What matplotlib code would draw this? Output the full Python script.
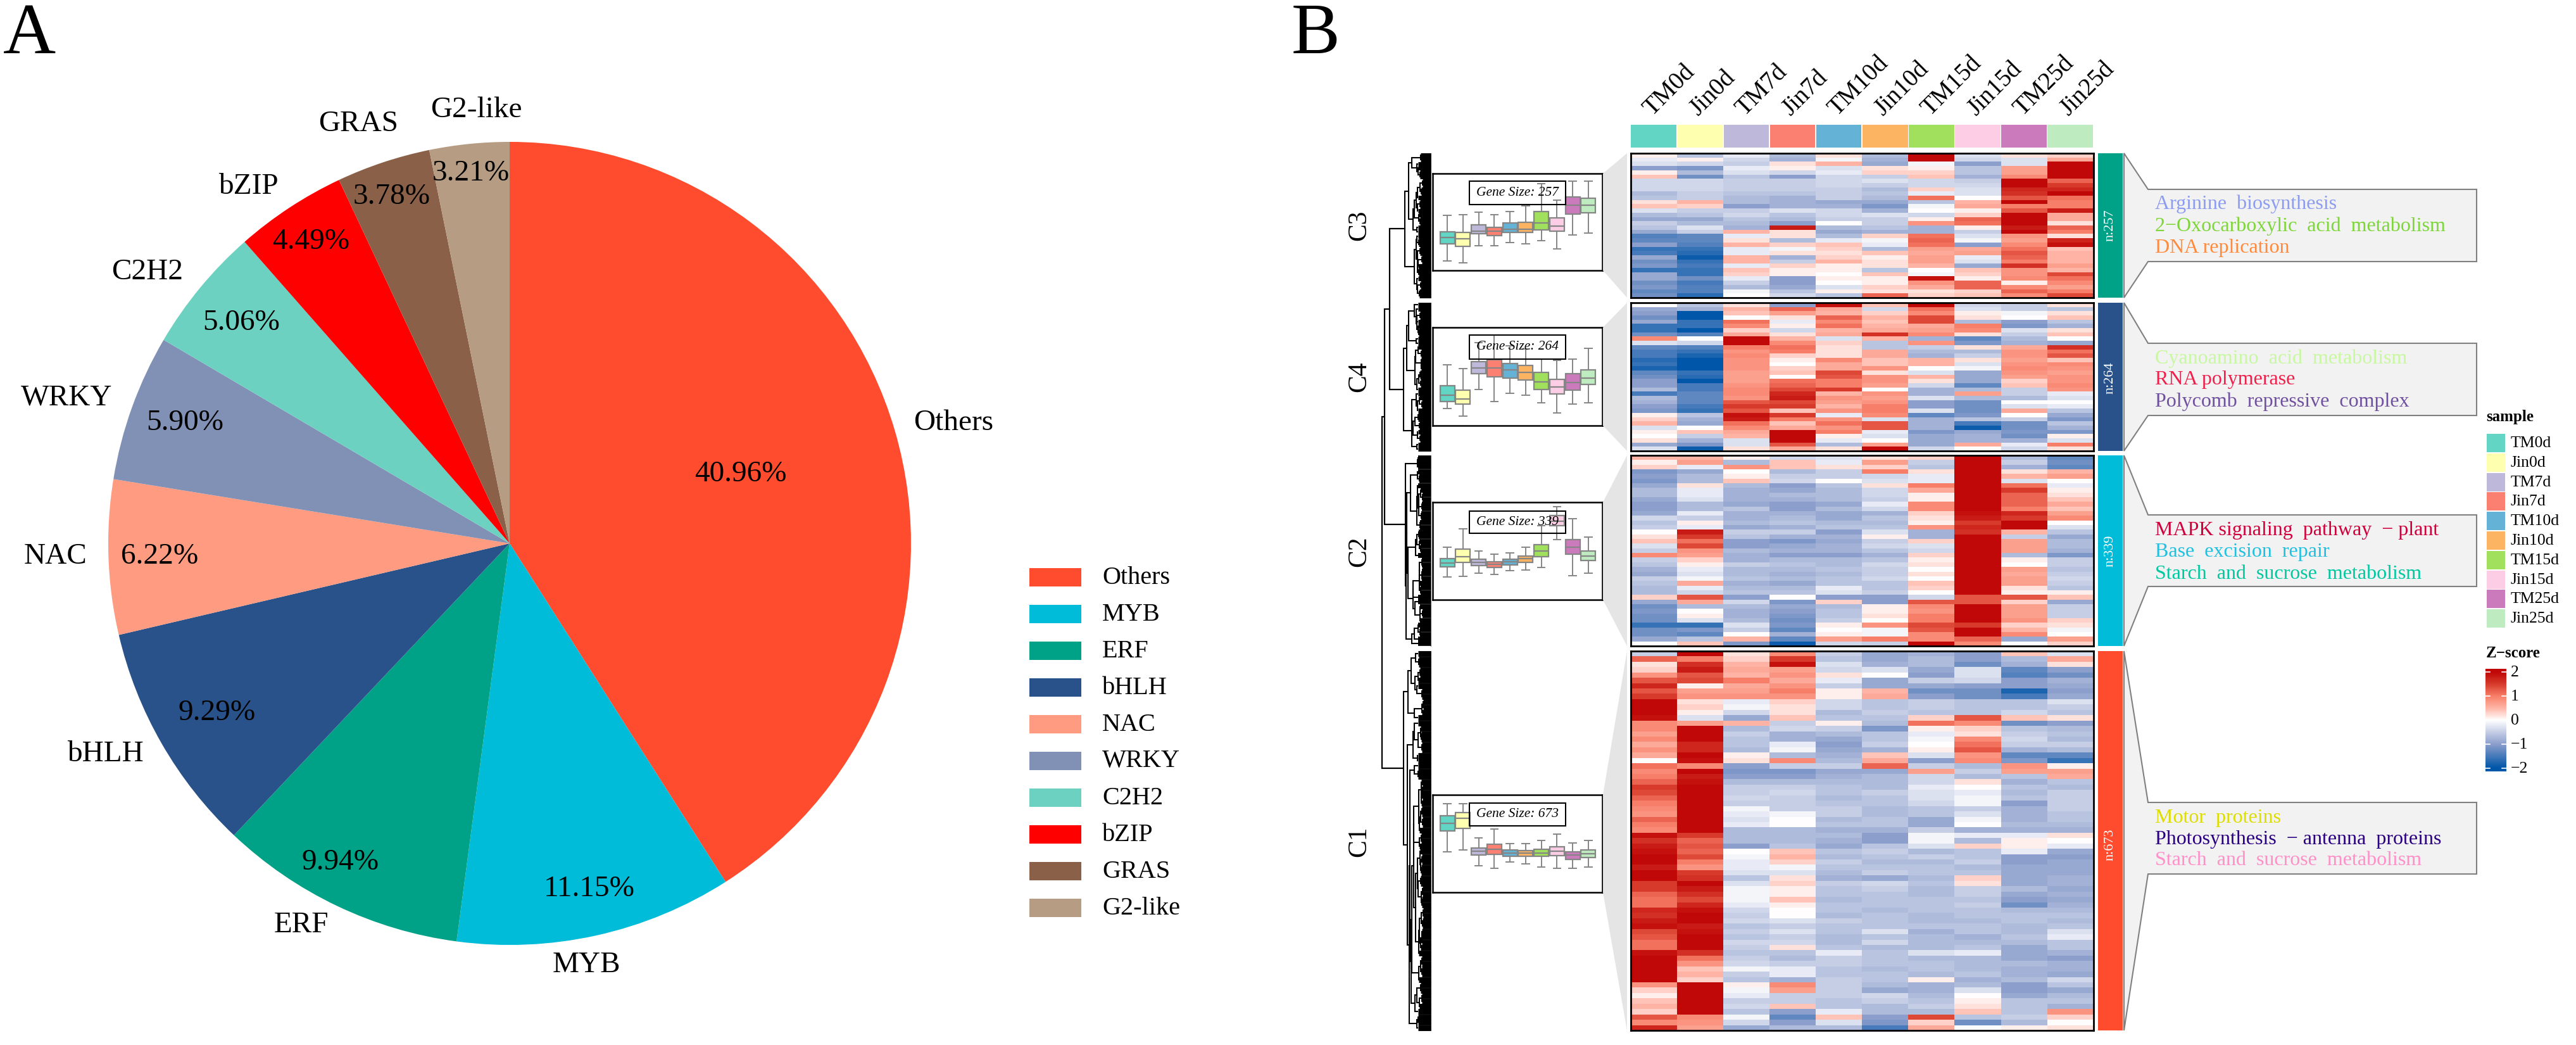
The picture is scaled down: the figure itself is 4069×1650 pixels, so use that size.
import numpy as np
import matplotlib
matplotlib.use("Agg")
import matplotlib.pyplot as plt
from matplotlib.colors import LinearSegmentedColormap
from matplotlib.patches import Polygon, Rectangle

plt.rcParams['font.family'] = ['Liberation Serif', 'DejaVu Serif']

# ---------------- data ----------------
families = ['Others','MYB','ERF','bHLH','NAC','WRKY','C2H2','bZIP','GRAS','G2-like']
family_pct = [40.96,11.15,9.94,9.29,6.22,5.90,5.06,4.49,3.78,3.21]
family_colors = ['#FF4C2F','#00BCD8','#00A287','#2A528A','#FF9B80','#8091B5','#6CD1C0','#FF0000','#8A6148','#B59C82']

samples = ['TM0d','Jin0d','TM7d','Jin7d','TM10d','Jin10d','TM15d','Jin15d','TM25d','Jin25d']
sample_colors = ['#62D5C5','#FFFFB0','#BEB9DA','#FC8072','#64B2D5','#FDB462','#A0E05C','#FCCDE5','#CB7BBC','#BEEBBF']

c3_rows = [
[.1,-.6,-.2,-.7,.2,-.7,2,-.3,.2,.3],[-.2,.1,-.4,-.8,-.1,-.8,2,-.4,-.3,.6],[-.3,-.4,-.5,.2,.5,-.9,-.1,-1,-.3,2],
[-1,-1.1,-.2,.1,-.3,.2,.1,-.6,.7,2],[.1,-.7,-.3,-.4,-.2,.3,.3,-.6,.7,2],[.4,-1.2,-.6,-1,-.4,-.5,.4,-.8,.9,2],
[-.4,-.4,-.5,-.5,-.4,-.3,-.4,-.5,2,1.2],[-.4,-.4,-.5,-.5,-.4,-.5,-.4,-.4,2,1.5],[-.4,-.4,-.5,-.5,-.5,-.7,.3,-.3,1.7,1.7],
[-.7,-.5,-.6,-.6,-.5,-.6,-.2,-.3,1.6,2],[-.6,-.5,-.7,-.8,-.5,-.7,1.1,0,1.3,1.1],[.2,.5,-.7,-.8,-.9,-.9,-.6,.5,2,1],
[.4,.3,-1,-.8,-.8,-1.1,-.1,.6,1,1],[-.3,-.5,-.5,-.3,-.4,-.8,0,.1,1.3,1.8],[-.7,-.6,-.4,-.6,-.4,-.3,-.4,.3,2,.6],
[-.9,-.9,-.6,-.7,-.5,-.5,.1,1.2,2,.6],[-.5,-.7,-.7,-1,0,-.5,.8,1.1,2,.2],[-.6,-.3,-.8,1.8,-.7,-.6,-.8,.1,1.8,1.2],
[-.9,-.5,.5,.2,-.9,-.8,-.8,-.5,2,1],[-1.4,-1.3,-.2,.2,-.7,.3,1.1,-.3,.8,.2],[-1.3,-1.3,.2,-.7,-.2,-.1,1.2,-.1,.7,1.7],
[-1,-1.4,.5,.3,.4,-.2,1.1,-1,.9,1.9],[-1.6,-1.6,-.2,-.1,.3,-.7,.7,.6,1.1,.4],[-1.5,-1.7,-.2,.2,.2,.4,.6,.7,1.3,.5],
[-.9,-1.9,.5,-.8,.3,.1,.7,-.2,1.2,.5],[-1.2,-1.6,.5,-.5,.5,.2,.7,-.3,1,.5],[-1.1,-1.5,-.2,.3,.1,.2,.5,-.9,1.6,.7],
[-1.6,-1.6,.4,.1,.1,-.6,0,.4,.8,.5],[-.9,-1.6,.3,.1,0,.4,-.1,.3,.8,1.4],[-.9,-1.2,-.2,-1,.1,.1,1.9,.1,.9,1.1],
[-1.2,-1.5,-.5,-1,0,.1,.8,1.2,.1,.9],[-1.1,-1.4,-.7,-.9,-.3,.3,.6,1.2,.9,.7],[-1.3,-1.4,-.1,-.6,.1,.2,.2,.3,1.2,1],
[-1.2,-1.7,0,-.4,-.6,1.2,.3,.4,.9,1.4]]

c4_rows = [
[0,-.6,.2,-1,1.9,.4,2,-.4,-.5,.2],[-.9,-.8,.5,1.2,.6,-.4,1.1,-.3,-.5,-.6],[-1,-2,.4,.7,.5,.3,.9,.1,-.1,.2],
[-1.2,-2,0,.2,1.2,.5,1.4,.2,0,.4],[-.9,-1.6,1.1,-.2,.9,.4,1.4,-.7,-1,-.6],[-1.6,-1.6,.9,.1,1.1,.5,.6,1,-1.1,-.8],
[-1.6,-2,.3,-.4,.5,.6,.7,.9,-.3,.2],[-1.2,-1.4,.6,.2,.6,1.6,.9,.2,-.5,.4],[.9,0,2,.5,-.3,.5,-.8,-1.3,-.7,0],
[-.3,-.4,2,.9,.3,-.6,.8,-1.1,-.8,-.9],[-1.3,-1.4,1,1.1,.2,-.6,-.5,.2,.6,1.6],[-1.5,-1.6,.8,1,.2,.6,-.7,-.7,.8,1.1],
[-1.5,-1.8,.9,.3,.2,.6,-.8,-.5,.8,1.3],[-1.7,-2,.8,.1,.9,.4,.5,.2,.7,.4],[-1.6,-2,.8,0,.6,.4,.5,-.3,.8,.9],
[-1.8,-2,.8,.3,.6,.8,0,-.1,.9,.8],[-1.3,-1.6,.7,.4,1.4,.2,-.3,-.9,.8,.7],[-1.2,-1.7,.7,0,1.3,.8,.5,-.9,.7,.8],
[-1,-2,.7,1.1,1,.8,.2,-.9,.3,.8],[-1,-1.5,.8,1.2,1,.7,-.4,-1.3,.4,.9],[-.7,-1.5,.9,1.4,1.5,0,-.8,-.7,-.5,.8],
[-1.5,-1.3,.9,1.7,.5,.8,-.8,.7,-.5,-.2],[-.7,-1.3,.8,1.8,.8,.7,-.3,-.7,-.7,-.3],[-.8,-1.3,1.3,1.4,.7,.8,-1,-1.2,0,0],
[-1,-1.5,1.5,1.5,.5,1,-1,-1.2,-.3,-.2],[-1.1,-1.6,1.3,.4,.8,1,-.3,-1.2,.6,-.6],[.1,-.6,1.9,1.5,-.2,.9,-1.3,-1.1,0,-.9],
[.3,-.8,1.8,1,.8,-.3,-.8,-.6,-.5,-1.1],[.5,-.9,1.1,.4,1.1,1.3,-.8,-1.5,-1.2,-.6],[-.3,0,.9,.6,.8,1.3,-.8,-1.9,-1.2,-.8],
[.1,.4,.6,2,1,-.2,-1.1,-.9,-1.1,-1.1],[0,-.5,.5,2,.1,-.3,-.9,-.8,-1.2,.1],[.2,-.8,-.3,2,-.2,0,-.9,-.8,-.8,-.3],
[-.9,-1.1,-.3,1.3,-.7,.7,-.9,.6,-.2,1],[-.3,-1.9,.2,.6,.2,2,-.4,0,-.4,.2]]

c2_rows = [
[.5,.5,.1,-.4,-.3,.2,.3,2,-.7,-1.3],[.1,.7,-.7,.4,-.2,.7,-.5,2,-.5,-1.2],[.3,-.2,.8,.4,.2,.3,-.6,2,-.8,-1.3],
[-1.1,-.9,0,-.7,-.5,1,.2,2,.2,.5],[-1,-.7,.1,-.5,-.5,-.4,-.2,2,.5,.7],[-1.1,-.7,.4,-.4,0,-.3,-.2,2,-.3,0],
[-.9,.2,-.7,-1,-.6,.2,1,2,1.1,-.2],[-.7,-.2,-.8,-.9,-.7,-.4,.6,2,1.5,.1],[-.7,-.2,-.8,-.7,-.7,-.4,.1,2,1.2,.2],
[-.9,-.3,-.8,-.8,-.7,-.5,.1,2,1.2,.4],[-1,-.7,-.9,-1,-.9,-.2,.9,2,1.2,.6],[-1,-.7,-.6,-1,-.7,-.4,.9,2,1,.4],
[-.9,-.2,-.8,-.8,-.9,-.8,.3,1.9,1.7,.7],[-.4,-.5,-.8,-.7,-.9,-.6,.2,1.8,1.5,.9],[-.6,.1,-.7,-.6,-.7,-.7,.1,1.5,2,0],
[-.5,-.2,-.9,-.8,-.6,-.6,.8,1.7,2,-.3],[0,1.8,-.5,-.5,-1,-.3,-.8,1.6,.5,-.6],[.2,1.5,-.6,-.8,-.8,.1,-.8,2,-.5,-.9],
[.4,1.1,-1,-1.1,-.9,-.5,.3,2,.7,-.7],[-.3,1.4,-1,-.9,-.8,-.4,-.3,2,.7,-.7],[-.5,.8,-.7,-.8,-.8,-.6,-.4,2,.7,-.8],
[.9,.7,-.8,-1,-1,-.8,.3,2,-.7,-1.1],[-.5,.3,-.8,-.7,-.7,-.6,.1,2,.1,-.5],[-.6,.1,-.5,-.6,-.7,-.4,.2,2,0,-.5],
[-.8,-.2,-.7,-.7,-.6,-.5,0,2,.7,-.6],[-.9,-.3,-.7,-.8,-.7,-.5,.2,2,.6,-.5],[-.5,-.1,-.6,-.7,-.6,-.4,0,2,.7,-.4],
[-.6,.6,-.8,-.9,-.6,-.6,.4,2,.7,-.5],[-.7,-.2,-.7,-.7,-.2,-.6,.3,2,.2,-.6],[-.7,-.4,-.6,-.6,-.3,-.5,0,2,.1,.1],
[.3,1.3,-1,0,-1,-1,-.4,1.3,1.3,.4],[-.9,.6,-.4,-1.1,.3,-1,1.3,1.3,.3,-.9],[-1.2,-.7,-.7,-.9,-.7,.1,.9,2,.7,-.5],
[-1.1,0,-.8,-1,-.6,.1,.8,2,.7,-.5],[-1.2,.1,-.8,-1.1,-.6,.2,1,2,.7,-.5],[-1.2,-.3,-.7,-1.2,-.5,0,1,2,.8,.3],
[-1.6,-1.6,-.3,-1.1,.1,.8,1.4,1.5,.3,.2],[-1.2,-1.1,-.5,-1.3,0,-.1,1.3,2,.5,-.1],[-1.2,-1.3,0,-.8,.1,-.1,.9,2,.9,0],
[-.9,-.6,.5,-1.3,.7,1,.9,1.2,-.9,.7],[0,.4,-1.1,-1.9,-.4,-.5,2,.9,0,.3]]

c1_rows = [
[-.5,2,.2,.9,-.5,-.9,-.8,-1,.4,-.3],[1.2,1,.3,1.5,-.6,-.9,-.7,-1,-.7,.6],[.2,1.6,.5,1.9,-.3,-.8,-.7,-1.2,-.8,.2],
[.3,1.8,.6,.7,-.4,-.3,-.9,-.3,-1.3,-1],[.8,1.3,.5,.8,.2,0,-1,-.3,-1.4,-1.2],[1.3,1.4,1,.6,-.2,-.9,-.5,-.4,-1,-.8],
[1.7,.1,.6,.8,-.5,-.9,-.9,-1,-1,-.9],[1.3,.7,.7,1,.1,.5,-1.2,-1.2,-1.8,-1],[1.5,.8,.8,.8,.1,.6,-1,-1.2,-1.5,-.9],
[2,.2,-.2,.3,-.4,-.6,-.5,-.6,-.6,-.3],[2,.3,-.1,.2,-.4,-.6,-.5,-.6,-.6,-.5],[2,.1,-.4,.2,-.7,-.5,-.6,-.6,-.4,-.6],
[1.9,-.3,-.9,.4,-.6,-.6,.3,1.3,.4,.2],[.9,.7,.5,-.5,.1,-.7,1.1,.9,-1.2,-1],[.9,2,-.7,-.4,-.5,-1.1,.1,.3,-.6,-.7],
[.7,2,-.5,-.8,-.7,-.6,-.2,.2,-.5,-.6],[.9,2,-.6,-.8,-.9,-.6,-.1,.9,-.4,-.7],[.6,1.7,-.6,-.2,-1,-.5,0,1.1,-.5,-.5],
[.8,1.7,-.7,-.1,-.9,-.8,.1,1.3,-.8,-.7],[.6,2,.1,-.7,-.8,.4,-.3,.8,-1.3,-1.3],[0,1.9,.2,.9,-.7,.6,-1,.9,-1.1,-1.6],
[1.1,.9,-1,-.5,-.5,1.2,-.5,-.7,.8,.1],[.9,2,-1.1,-1.1,-.9,-.9,.7,-.5,.7,.7],[1,1.8,-1,-1,-.8,-.7,-.4,-.7,-.6,.6],
[1.2,1.9,-.7,-.7,-.7,-.7,-.4,.2,-.8,-.6],[1.5,2,-.5,-.5,-.6,-.7,-.2,0,-.6,-.7],[1.4,2,-.5,-.4,-.6,-.5,-.3,-.2,-.7,-.5],
[1.2,2,-.4,-.5,-.7,-.6,-.3,-.1,-.6,-.5],[1,2,-.5,-.5,-.6,-.6,-.4,-.1,-1,-.5],[.9,2,-.1,-.5,-.5,-.7,-.6,-.5,-.8,-.5],
[.8,2,-.2,-.1,-.5,-.7,-.6,-.3,-.8,-.6],[1.2,2,-.3,0,-.7,-.6,-.9,-.1,-.8,-.6],[1,2,-.2,0,-.6,-.6,-.9,0,-.7,-.7],
[.9,2,-.7,-.7,-.8,-.8,-.5,-.8,-.8,-.8],[1.9,1.5,-.7,-.7,-.7,-1,-.1,-.2,-.2,.2],[1.6,1.2,-.7,-.7,-.8,-1,-.1,-.7,.1,0],
[1.8,1.3,-1,-.6,-.9,-.6,-.3,.3,.1,-.2],[1.9,1.2,0,.4,-.6,-.5,-.7,-.6,-.2,-.9],[2,1.4,-.1,.5,-.7,-.6,-.5,-.6,-1,-1],
[2,1,-.2,.3,-.5,-.7,-.7,-.5,-1,-.9],[1.8,.8,-.2,-.1,-.6,-.6,-.6,-.7,-.9,-.9],[2,1.5,-.3,-.3,-.7,-.5,-.6,-.6,-.9,-.9],
[2,1.6,-.6,.2,-.8,-.9,-.7,.3,-.9,-.8],[1.5,2,-.3,.3,-.5,-.4,-.6,.2,-.9,-.8],[1.5,1.8,-.1,.1,-.6,-.5,-.7,-.5,-.7,-.9],
[1.2,1.6,-.1,.1,-.6,-.6,-.7,-.5,-.9,-.8],[1.1,1.4,-.1,.4,-.7,-.6,-.6,-.6,-1,-.9],[1.1,1.7,-.2,.1,-.6,-.6,-.6,-.5,-1.2,-.8],
[1.7,1.9,-.4,0,-.6,-.7,-.6,-.6,-.7,-.7],[1.6,2,-.5,0,-.7,-.6,-.7,-.6,-.6,-.6],[1.8,2,-.4,-.3,-.5,-.6,-.7,-.7,-.6,-.7],
[1.9,1.8,-.6,-.5,-.6,-.6,-.6,-.6,-.7,-.6],[1.4,1.9,-.5,-.3,-.6,-.3,-.8,-.6,-.7,-.3],[1.3,2,-.6,-.5,-.7,-.6,-.7,-.8,-.6,-.2],
[1.1,2,-.4,-.4,-.7,-.4,-.7,-.7,-.7,-.6],[1.1,2,-.5,.2,-.6,-.7,-.7,-.6,-.9,-.6],[1.9,1.6,-.6,-.6,-.2,-.6,-.3,-.2,-.9,-.8],
[2,1.1,-.5,-.7,-.5,-.6,-.7,-.7,-.9,-1],[2,.8,-.4,-.5,-.5,-.6,-.6,-.7,-.7,-.8],[2,.4,-.1,-.2,-.6,-.7,-.6,-.7,-.8,-.8],
[2,.5,-.5,-.2,-.6,-.6,-.7,-.6,-.8,-.9],[2,.3,-.6,-.8,-.5,-.6,.1,-.8,-.7,-.4],[.8,2,.1,.9,-.5,-.7,-.8,-.7,-1,-.6],
[.3,2,-.1,.7,-.5,-.9,-.8,-.3,-1,-.9],[.1,2,-.2,-.5,-.5,-.4,-.7,0,-.9,-.7],[.4,2,-.5,-.5,-.6,-.5,-.6,.1,-.6,-.6],
[.5,2,-.4,.4,-.6,-.7,-.5,.2,-.6,-.8],[.3,2,-.6,-1,-.2,-.7,-.7,.4,-.6,.8],[1.3,.9,-.1,-1.3,.4,-1,1.4,-.6,-.5,.3],
[.9,.8,-.4,-1,-.3,-1.1,.3,-1.2,-.7,0],[1.7,.7,-.9,-.7,-.7,-1.5,.6,0,.1,.2]]

# box stats per sample: whisker high, q3, median, q1, whisker low
c3_box = [[.27,-.40,-.63,-.89,-1.60],[.30,-.43,-.69,-1.00,-1.69],[.40,-.13,-.37,-.49,-.99],[.29,-.22,-.39,-.55,-.99],[.42,-.04,-.29,-.44,-.86],
          [.66,0,-.31,-.44,-.89],[1.59,.42,-.04,-.33,-.78],[.91,.18,-.17,-.38,-1.11],[1.68,1.04,.69,.33,-.54],[1.68,.97,.70,.39,-.45]]
c4_box = [[.49,-.38,-.76,-1.01,-1.31],[.32,-.55,-.92,-1.11,-1.61],[1.37,.60,.36,.12,-.54],[1.69,.69,.36,-.02,-1.01],[1.25,.54,.26,-.06,-.69],
          [1.13,.44,.18,-.14,-.77],[.71,.18,-.21,-.54,-1.07],[.65,-.12,-.42,-.71,-1.49],[.71,.11,-.24,-.56,-1.13],[1.15,.27,-.06,-.32,-1.07]]
c2_box = [[.16,-.31,-.49,-.65,-1.06],[.90,.09,-.24,-.46,-1.03],[.01,-.34,-.46,-.60,-.92],[-.12,-.43,-.54,-.67,-.96],[-.07,-.34,-.45,-.56,-.81],
          [.15,-.20,-.32,-.46,-.78],[1.03,.27,.01,-.23,-.68],[1.81,1.45,1.22,1.03,.48],[1.33,.48,.16,-.12,-1.01],[.56,-.01,-.20,-.40,-.90]]
c1_box = [[1.64,1.14,.82,.51,-.35],[1.64,1.26,1.03,.62,-.27],[.23,-.18,-.32,-.48,-.90],[.59,-.02,-.23,-.45,-1.01],[.01,-.27,-.38,-.51,-.76],
          [.01,-.29,-.40,-.53,-.84],[.13,-.24,-.38,-.53,-.95],[.40,-.12,-.31,-.49,-1.01],[.02,-.35,-.48,-.64,-1.00],[.12,-.27,-.42,-.56,-.96]]

cluster_names = ['C3','C4','C2','C1']
cluster_sizes = [257,264,339,673]
cluster_colors = ['#00A287','#2A528A','#00BCD8','#FF4C2F']

terms = [['Arginine  biosynthesis','2\u2212Oxocarboxylic  acid  metabolism','DNA replication'],
         ['Cyanoamino  acid  metabolism','RNA polymerase','Polycomb  repressive  complex'],
         ['MAPK signaling  pathway  \u2212 plant','Base  excision  repair','Starch  and  sucrose  metabolism'],
         ['Motor  proteins','Photosynthesis  \u2212 antenna  proteins','Starch  and  sucrose  metabolism']]
term_colors = [['#8C9CF0','#7ED63A','#FF8A3C'],['#C8F8A0','#F0204C','#7050A0'],
               ['#D0003C','#20C0E0','#00C8A0'],['#DDDD00','#2A0080','#FF90C8']]

zscore_ticks = [2,1,0,-1,-2]
top_merge_x = [2195,2187,2183]   # outer dendrogram merges: C3+C4, +C2, +C1

# ---------------- layout (pixels) ----------------
W, H = 4069, 1650
fig = plt.figure(figsize=(W/100, H/100), dpi=100)
def px_axes(x0, y0, x1, y1, **kw):
    return fig.add_axes([x0/W, 1-y1/H, (x1-x0)/W, (y1-y0)/H], **kw)

heat_x0, heat_x1 = 2576, 3307
heat_y = [(242,470),(478,712),(719,1020),(1028,1627)]
box_y = [(274,427),(517,672),(793,947),(1255,1409)]
label_y = [(286,323),(529,567),(807,842),(1268,1304)]
term_y = [(299,413),(542,656),(813,926),(1267,1380)]
term_lines = [(322,357,391),(566,600,634),(838,871,906),(1291,1325,1359)]
cname_y = [356,595,871,1329]
nbar_label_y = [356,597,870,1334]

cmap = LinearSegmentedColormap.from_list('z', [(0,'#0056A8'),(.25,'#8C9FCC'),(.375,'#C6CEE6'),(.5,'#FFFFFF'),
                                               (.625,'#FFB5A6'),(.75,'#F8806A'),(.875,'#D83C2C'),(1,'#C00808')])

# Pie
cx, cy, r = 805, 858, 634
ax_pie = px_axes(cx-r, cy-r, cx+r, cy+r)
ax_pie.pie(family_pct, colors=family_colors, startangle=90, counterclock=False, radius=1,
           wedgeprops={'linewidth':0})
ax_pie.set_xlim(-1,1); ax_pie.set_ylim(-1,1)

# Heatmaps
rows_all = [c3_rows,c4_rows,c2_rows,c1_rows]
for rows,(y0,y1) in zip(rows_all,heat_y):
    ax = px_axes(heat_x0,y0,heat_x1,y1)
    ax.imshow(np.array(rows),cmap=cmap,vmin=-2,vmax=2,aspect='auto',interpolation='nearest')
    ax.set_xticks([]); ax.set_yticks([])
    for s in ax.spines.values():
        s.set_linewidth(2.0); s.set_color('black')

# Box panels
boxes_all = [c3_box,c4_box,c2_box,c1_box]
for box,(y0,y1) in zip(boxes_all,box_y):
    ax = px_axes(2263,y0,2531,y1)
    stats = [dict(whishi=b[0],q3=b[1],med=b[2],q1=b[3],whislo=b[4],fliers=[]) for b in box]
    g = '#858585'
    art = ax.bxp(stats,positions=range(1,11),widths=.93,patch_artist=True,showfliers=False,
                 boxprops=dict(edgecolor=g,linewidth=1.6),medianprops=dict(color=g,linewidth=1.6),
                 whiskerprops=dict(color=g,linewidth=1.4),capprops=dict(color=g,linewidth=1.4))
    for p,c in zip(art['boxes'],sample_colors):
        p.set_facecolor(c)
    ax.set_xlim(.07,10.89); ax.set_ylim(-2,2)
    ax.set_xticks([]); ax.set_yticks([])
    for s in ax.spines.values():
        s.set_linewidth(1.8); s.set_color('black')

# Colour bar
ax_cb = px_axes(3926,1056,3959,1218)
ax_cb.imshow(np.linspace(2.13,-2.13,256).reshape(-1,1),cmap=cmap,vmin=-2,vmax=2,aspect='auto',
             extent=(0,1,-2.13,2.13))
ax_cb.axis('off')
ax_cb.set_xlim(0,1); ax_cb.set_ylim(-2.13,2.13)
for t in zscore_ticks:
    ax_cb.plot([0,.2],[t,t],color='white',lw=1.2)
    ax_cb.plot([.8,1],[t,t],color='white',lw=1.2)

# Overlay in pixel coordinates
ov = fig.add_axes([0,0,1,1],zorder=10)
ov.set_xlim(0,W); ov.set_ylim(H,0); ov.axis('off'); ov.patch.set_alpha(0)

def txt(x,y,s,size,ha='center',va='center',**kw):
    ov.text(x,y,s,fontsize=size,ha=ha,va=va,**kw)

txt(47,56,'A',83); txt(2078,56,'B',83)

# Pie labels
pie_label_pos = [(1506,668),(926,1524),(476,1461),(166,1191),(88,879),(105,628),(233,430),(392,295),(566,196),(752,174)]
pie_pct_pos = [(1170,749),(931,1404),(538,1362),(343,1126),(252,879),(292,668),(381,510),(491,382),(619,311),(744,274)]
for name,val,lp,pp in zip(families,family_pct,pie_label_pos,pie_pct_pos):
    txt(lp[0],lp[1],name,34)
    txt(pp[0],pp[1],f'{val:.2f}%',34)

# Pie legend
for i,(name,c) in enumerate(zip(families,family_colors)):
    y = 897+58*i
    ov.add_patch(Rectangle((1626,y),82,29,fc=c,ec='none'))
    txt(1741,y+15,name,29,ha='left')

# Sample annotation bar and labels
cw = (heat_x1-heat_x0)/10
for i,(s,c) in enumerate(zip(samples,sample_colors)):
    ov.add_patch(Rectangle((heat_x0+i*cw+.5,197),cw-1.5,36,fc=c,ec='none'))
    ov.text(heat_x0+(i+.5)*cw+3,190,s,fontsize=28,rotation=45,ha='left',va='bottom',rotation_mode='anchor')

# Dendrogram built from the heatmap rows by adjacent merging
def tree(rows,y0,y1,x_root):
    M = np.array(rows,float); n = len(M); rh = (y1-y0)/n
    nodes = [dict(v=M[i],n=1,y=y0+(i+.5)*rh,h=0.0,kids=None) for i in range(n)]
    while len(nodes)>1:
        d = [np.sqrt(nodes[i]['n']*nodes[i+1]['n']/(nodes[i]['n']+nodes[i+1]['n']))*np.linalg.norm(nodes[i]['v']-nodes[i+1]['v'])
             for i in range(len(nodes)-1)]
        i = int(np.argmin(d)); a,b = nodes[i],nodes[i+1]
        m = dict(v=(a['v']*a['n']+b['v']*b['n'])/(a['n']+b['n']),n=a['n']+b['n'],y=(a['y']+b['y'])/2,
                 h=max(d[i],a['h'],b['h']),kids=(a,b))
        nodes[i:i+2] = [m]
    root = nodes[0]; hmax = root['h']
    X = lambda h: 2250-(2250-x_root)*(h/hmax)**.8
    lw = 1.5
    ov.plot([2260,2260],[y0,y1],color='k',lw=.5)
    def draw(nd):
        x = X(nd['h'])
        for k in nd['kids']:
            ov.plot([x,x],[nd['y'],k['y']],color='k',lw=lw,solid_capstyle='projecting')
            if k['kids'] is None:
                start = max(x,2240)
                ov.plot([x,start],[k['y'],k['y']],color='k',lw=lw,solid_capstyle='butt')
                ov.plot([start,2260],[k['y'],k['y']],color='k',lw=rh*.76,solid_capstyle='butt')
            else:
                ov.plot([x,X(k['h'])],[k['y'],k['y']],color='k',lw=lw,solid_capstyle='butt')
                draw(k)
    draw(root)
    return root['y']

root_x = [2219,2217,2220,2217]
ry = [tree(r_,y[0],y[1],rx) for r_,y,rx in zip(rows_all,heat_y,root_x)]
def link(x,ya,xa,yb,xb):
    ov.plot([xa,x,x,xb],[ya,ya,yb,yb],color='k',lw=1.6,solid_joinstyle='miter',solid_capstyle='butt')
    return (ya+yb)/2
m1 = link(top_merge_x[0],ry[0],root_x[0],ry[1],root_x[1])
m2 = link(top_merge_x[1],m1,top_merge_x[0],ry[2],root_x[2])
m3 = link(top_merge_x[2],m2,top_merge_x[1],ry[3],root_x[3])

# Cluster pieces
for i in range(4):
    hy0,hy1 = heat_y[i]; by0,by1 = box_y[i]; ty0,ty1 = term_y[i]
    txt(2147,cname_y[i],cluster_names[i],30,rotation=90)
    ov.add_patch(Polygon([(2532,by0),(2570,hy0),(2570,hy1),(2532,by1)],fc='#E5E5E5',ec='none'))
    ov.add_patch(Rectangle((2321,label_y[i][0]),152,label_y[i][1]-label_y[i][0],fc='none',ec='k',lw=1.5))
    txt(2397,sum(label_y[i])/2,f'Gene Size: {cluster_sizes[i]}',15.5,style='italic')
    ov.add_patch(Rectangle((3314,hy0),39,hy1-hy0,fc=cluster_colors[i],ec='none'))
    txt(3333,nbar_label_y[i],f'n:{cluster_sizes[i]}',16,rotation=90,color='white')
    ov.add_patch(Polygon([(3355,hy0),(3393,ty0),(3912,ty0),(3912,ty1),(3393,ty1),(3355,hy1)],
                         closed=True,fc='#F2F2F2',ec='#808080',lw=1.5))
    for s,c,y in zip(terms[i],term_colors[i],term_lines[i]):
        txt(3404,y,s,23,ha='left',color=c)

# Right legends
txt(3927,659,'sample',18,ha='left',fontweight='bold')
for i,(s,c) in enumerate(zip(samples,sample_colors)):
    y = 685+30.8*i
    ov.add_patch(Rectangle((3928,y),29,29,fc=c,ec='none'))
    txt(3966,y+15,s,18.5,ha='left')
txt(3927,1032,'Z\u2212score',18,ha='left',fontweight='bold')
for t in zscore_ticks:
    y = 1138-38*t
    txt(3966,y,str(t).replace('-','\u2212'),18.5,ha='left')

fig.savefig('out.png',dpi=100,facecolor='white')
